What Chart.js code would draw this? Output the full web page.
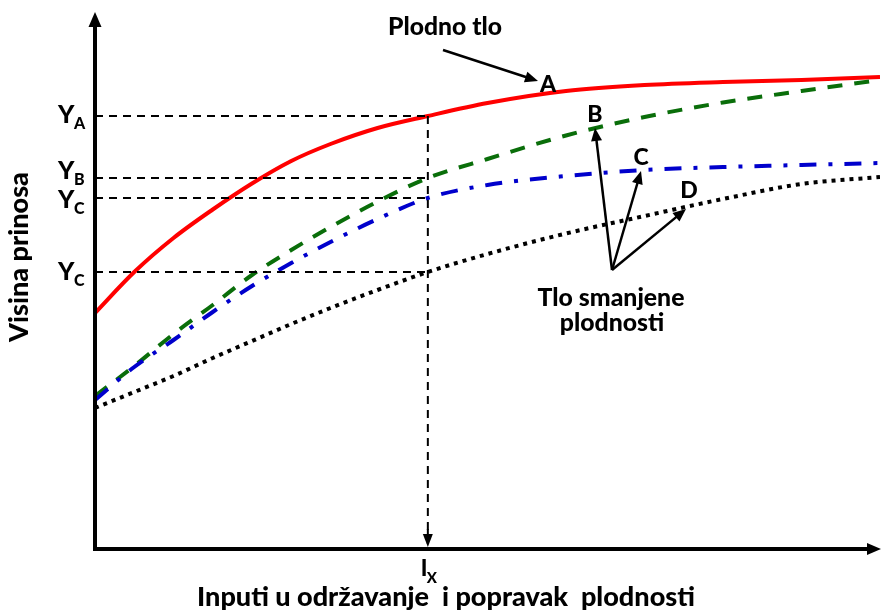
<!DOCTYPE html>
<html>
<head>
<meta charset="utf-8">
<script src="https://cdn.jsdelivr.net/npm/chart.js@4.4.1/dist/chart.umd.min.js"></script>
<style>
  body { margin: 0; background: #fff; }
  #wrap { width: 881px; height: 611px; position: relative; }
</style>
</head>
<body>
<div id="wrap"><canvas id="myChart"></canvas></div>
<script>
// input level (x) and yield (y) for each soil curve
const inputs = [0, 5, 10, 15, 20, 25, 30, 36, 42.4, 50, 60, 70, 80, 90, 100];
const curveA = [47.2, 55.4, 62.2, 67.9, 73.1, 77.6, 81.0, 84.2, 86.6, 89.2, 91.6, 92.8, 93.4, 93.8, 94.4];
const curveB = [30.6, 36.6, 43.0, 48.8, 54.8, 59.8, 64.4, 69.5, 74.2, 78.0, 82.7, 86.4, 89.3, 91.6, 93.8];
const curveC = [29.8, 36.4, 41.8, 47.4, 52.6, 57.2, 61.4, 66.0, 70.2, 72.8, 74.6, 75.8, 76.4, 76.8, 77.2];
const curveD = [28.2, 31.4, 34.6, 38.2, 41.6, 45.0, 48.2, 51.8, 55.4, 59.0, 63.1, 66.6, 70.0, 73.0, 74.4];

// reference levels
const IX = 42.4;
const yLevels = [86.6, 74.2, 70.2, 55.4];
const yLevelLabels = ["A", "B", "C", "C"];

const FONT = "Lato, 'Open Sans', sans-serif";
const W = "900 ";

function pts(ys) {
  return inputs.map((x, i) => ({ x: x, y: ys[i] }));
}

function refLine(y) {
  return {
    data: [{ x: 0, y: y }, { x: IX, y: y }],
    borderColor: "#000",
    borderWidth: 2,
    borderDash: [8, 6],
    pointRadius: 0,
    tension: 0,
  };
}

function arrow(c, x1, y1, x2, y2, len, w) {
  const a = Math.atan2(y2 - y1, x2 - x1);
  c.beginPath();
  c.moveTo(x1, y1);
  c.lineTo(x2 - Math.cos(a) * len * 0.8, y2 - Math.sin(a) * len * 0.8);
  c.stroke();
  c.beginPath();
  c.moveTo(x2, y2);
  c.lineTo(x2 - Math.cos(a) * len + Math.sin(a) * w / 2, y2 - Math.sin(a) * len - Math.cos(a) * w / 2);
  c.lineTo(x2 - Math.cos(a) * len - Math.sin(a) * w / 2, y2 - Math.sin(a) * len + Math.cos(a) * w / 2);
  c.closePath();
  c.fill();
}

function fitSize(c, text, width) {
  c.font = W + "20px " + FONT;
  return 20 * width / c.measureText(text).width;
}

const decorations = {
  id: "decorations",
  afterDatasetsDraw(chart) {
    const c = chart.ctx;
    const xs = chart.scales.x;
    const ys = chart.scales.y;
    const x0 = xs.getPixelForValue(0);
    const y0 = ys.getPixelForValue(0);
    const xi = xs.getPixelForValue(IX);
    c.save();
    c.fillStyle = "#000";
    c.strokeStyle = "#000";

    // axes
    c.lineWidth = 4;
    arrow(c, x0, y0 + 2, x0, 12, 15, 13);
    arrow(c, x0 - 2, y0, 881, y0, 14, 12);

    // arrow on the Ix drop line
    c.lineWidth = 2;
    arrow(c, xi, y0 - 20, xi, y0 - 2, 13, 10);

    // annotation arrows
    c.lineWidth = 2.5;
    arrow(c, 443, 50, 538, 81, 13, 11);
    arrow(c, 612, 270, 595, 128, 13, 11);
    arrow(c, 612, 270, 641, 171, 13, 11);
    arrow(c, 612, 270, 686, 209, 13, 11);

    // Y labels (baseline offsets from each dashed line)
    const yOff = [7, 1, 10, 8];
    c.textAlign = "left";
    c.textBaseline = "alphabetic";
    yLevels.forEach((v, i) => {
      const py = ys.getPixelForValue(v) + yOff[i];
      c.font = W + "25px " + FONT;
      c.fillText("Y", 58, py);
      c.font = W + "16px " + FONT;
      c.fillText(yLevelLabels[i], 74, py + 6);
    });

    // I_X
    c.font = W + "22px " + FONT;
    c.fillText("I", xi - 7, 576);
    c.font = W + "15px " + FONT;
    c.fillText("X", xi - 1, 583);

    // curve letters
    c.textAlign = "center";
    c.font = W + "23px " + FONT;
    c.fillText("A", 548, 92);
    c.fillText("B", 595, 122);
    c.fillText("C", 641, 165);
    c.fillText("D", 689, 198);

    // notes
    let s = fitSize(c, "Plodno tlo", 114);
    c.font = W + s + "px " + FONT;
    c.fillText("Plodno tlo", 445, 35);

    s = fitSize(c, "Tlo smanjene", 147);
    c.font = W + s + "px " + FONT;
    c.fillText("Tlo smanjene", 611, 306);
    c.fillText("plodnosti", 612, 331);

    // axis titles
    const xTitle = "Inputi u održavanje  i popravak  plodnosti";
    s = fitSize(c, xTitle, 498);
    c.font = W + s + "px " + FONT;
    c.fillText(xTitle, 446, 606);

    const yTitle = "Visina prinosa";
    s = fitSize(c, yTitle, 170);
    c.font = W + s + "px " + FONT;
    c.translate(28, 257);
    c.rotate(-Math.PI / 2);
    c.fillText(yTitle, 0, 0);
    c.restore();
  },
};

new Chart(document.getElementById("myChart"), {
  type: "line",
  data: {
    datasets: [
      refLine(yLevels[0]),
      refLine(yLevels[1]),
      refLine(yLevels[2]),
      refLine(yLevels[3]),
      {
        data: [{ x: IX, y: yLevels[0] }, { x: IX, y: 0 }],
        borderColor: "#000",
        borderWidth: 2,
        borderDash: [8, 6],
        pointRadius: 0,
      },
      {
        label: "D",
        data: pts(curveD),
        borderColor: "#000",
        borderWidth: 4,
        borderDash: [4, 5],
        pointRadius: 0,
        cubicInterpolationMode: "monotone",
      },
      {
        label: "C",
        data: pts(curveC),
        borderColor: "#0000cc",
        borderWidth: 4,
        borderDash: [17, 12, 4, 12],
        pointRadius: 0,
        cubicInterpolationMode: "monotone",
      },
      {
        label: "B",
        data: pts(curveB),
        borderColor: "#0a6e0a",
        borderWidth: 4,
        borderDash: [15, 12],
        pointRadius: 0,
        cubicInterpolationMode: "monotone",
      },
      {
        label: "A",
        data: pts(curveA),
        borderColor: "#ff0000",
        borderWidth: 4,
        pointRadius: 0,
        cubicInterpolationMode: "monotone",
      },
    ],
  },
  options: {
    responsive: true,
    maintainAspectRatio: false,
    animation: false,
    layout: { padding: { left: 95, right: 1, top: 49, bottom: 62 } },
    plugins: { legend: { display: false }, tooltip: { enabled: false } },
    scales: {
      x: { type: "linear", min: 0, max: 100, display: false },
      y: { min: 0, max: 100, display: false },
    },
  },
  plugins: [decorations],
});
</script>
</body>
</html>
